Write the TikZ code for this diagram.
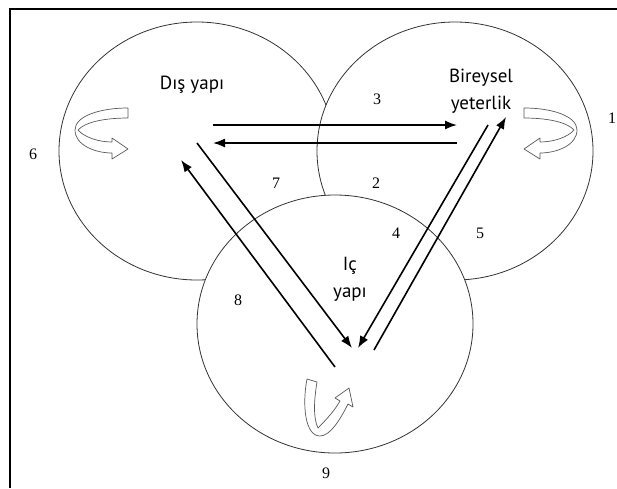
\documentclass[tikz,border=0pt]{standalone}
\usepackage{fontspec}
\setmainfont{Liberation Serif}
\newfontfamily\labelfont{PT Sans}
\usetikzlibrary{arrows.meta}
\begin{document}
\begin{tikzpicture}[x=1pt,y=-1pt,
  ring/.style={draw=black!80, line width=0.8pt, fill=white},
  flow/.style={line width=1.6pt, -{Latex[length=12pt,width=9pt]}},
  curl/.style={draw=black!65, line width=0.7pt, fill=white, line join=round},
  lbl/.style={font=\labelfont\fontsize{19}{27}\selectfont, align=center, inner sep=0pt},
  num/.style={font=\fontsize{16}{18}\selectfont, inner sep=0pt}]
\useasboundingbox (0,0) rectangle (617,488);
% frame
\draw[line width=2pt] (617,9) -- (9.5,9) -- (9.5,488);
% circles
\draw[ring] (197,151) ellipse [x radius=138pt, y radius=129pt];
\draw[ring] (455,151) ellipse [x radius=138pt, y radius=129pt];
\draw[ring] (335,324) ellipse [x radius=138pt, y radius=129pt];
% curled arrows
\draw[curl] (128,108) .. controls (100,108) and (75,116) .. (75,130)
  .. controls (75,145) and (95,153) .. (112,153)
  -- (112,159) -- (128,149) -- (112,138) -- (112,142)
  .. controls (98,142) and (84,137) .. (78,130)
  .. controls (85,122) and (105,118) .. (128,118) -- cycle;
\begin{scope}[shift={(652,0)}, xscale=-1]
\draw[curl] (128,108) .. controls (100,108) and (75,116) .. (75,130)
  .. controls (75,145) and (95,153) .. (112,153)
  -- (112,159) -- (128,149) -- (112,138) -- (112,142)
  .. controls (98,142) and (84,137) .. (78,130)
  .. controls (85,122) and (105,118) .. (128,118) -- cycle;
\end{scope}
\draw[curl] (307,379) -- (317,382)
  .. controls (314,400) and (313,418) .. (318,428)
  .. controls (326,420) and (335,410) .. (340,401)
  -- (335,398) -- (349,388) -- (353,407) -- (348,404)
  .. controls (340,420) and (330,436) .. (320,436)
  .. controls (305,436) and (302,405) .. (307,379) -- cycle;
% labels
\node[lbl] (dis) at (192,85) {Dış yapı};
\node[lbl] (bir) at (481,91) {Bireysel\\yeterlik};
\node[lbl] (ic) at (350,279) {Iç\\yapı};
% numbers
\node[num] (n1) at (612,118) {1};
\node[num] (n2) at (376,183) {2};
\node[num] (n3) at (377,99) {3};
\node[num] (n4) at (396,233) {4};
\node[num] (n5) at (480,233) {5};
\node[num] (n6) at (33,154) {6};
\node[num] (n7) at (276,183) {7};
\node[num] (n8) at (238,300) {8};
\node[num] (n9) at (326,473) {9};
% arrow end points
\coordinate (dR1) at (213,125);
\coordinate (bL1) at (457,125);
\coordinate (bL2) at (457,143);
\coordinate (dR2) at (213,143);
\coordinate (dHead) at (181,160);
\coordinate (dTail) at (197,143);
\coordinate (iTailL) at (335,367);
\coordinate (iHeadL) at (352,348);
\coordinate (bTail) at (488,125);
\coordinate (bHead) at (506,117);
\coordinate (iHeadR) at (358,348);
\coordinate (iTailR) at (374,350);
% arrows
\draw[flow] (dR1) -- (bL1);
\draw[flow] (bL2) -- (dR2);
\draw[flow] (iTailL) -- (dHead);
\draw[flow] (dTail) -- (iHeadL);
\draw[flow] (bTail) -- (iHeadR);
\draw[flow] (iTailR) -- (bHead);
\end{tikzpicture}
\end{document}
